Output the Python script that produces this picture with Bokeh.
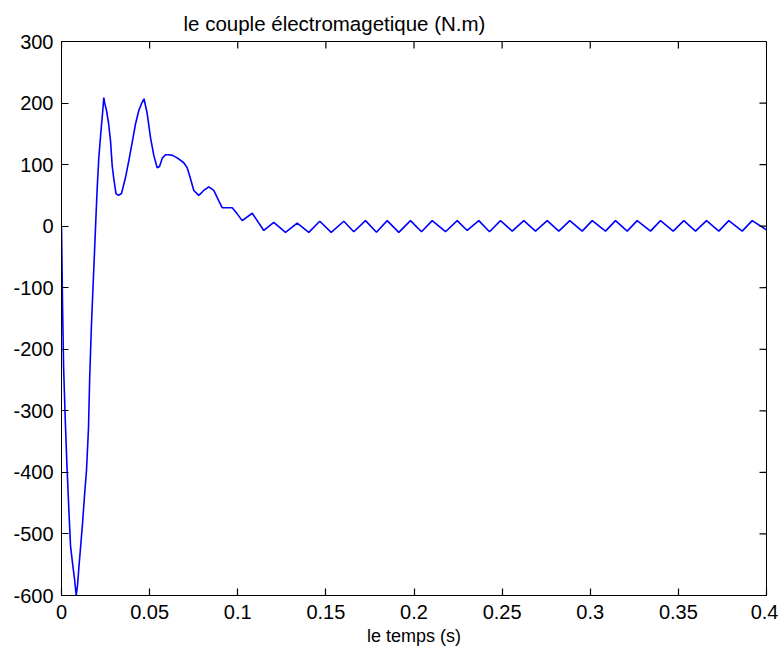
from math import pi
from bokeh.plotting import figure
from bokeh.models import Range1d, FixedTicker
from bokeh.embed import file_html
from bokeh.resources import INLINE

# time (s)
t = [0.0, 0.0006, 0.0012, 0.0022, 0.0031, 0.00426, 0.00511, 0.00624, 0.00738, 0.00834,
     0.00908, 0.00993, 0.01078, 0.01191, 0.01305, 0.01418, 0.01532, 0.0160, 0.01691, 0.01787,
     0.01872, 0.01946, 0.02026, 0.02116, 0.02241, 0.02343, 0.0240, 0.02457, 0.02553, 0.02667,
     0.0278, 0.02877, 0.02967, 0.03092, 0.03234, 0.03404, 0.03631, 0.03818, 0.04011, 0.04199,
     0.04386, 0.04539, 0.04681, 0.04862, 0.0505, 0.05237, 0.0543, 0.0556, 0.0573, 0.05901,
     0.06088, 0.06298, 0.06565, 0.06939, 0.07132, 0.07319, 0.07506, 0.0779, 0.08074, 0.08357,
     0.08641, 0.08925, 0.09118, 0.09685, 0.09969, 0.10252, 0.1082, 0.11478, 0.12045, 0.12709,
     0.13373, 0.14031, 0.14655, 0.15302, 0.16017, 0.16584, 0.17248, 0.17872, 0.18479, 0.19138,
     0.19801, 0.20426, 0.21033, 0.21787, 0.22451, 0.23018, 0.23677, 0.24284, 0.24908, 0.25572,
     0.2623, 0.26894, 0.27557, 0.28216, 0.2884, 0.29543, 0.30111, 0.30865, 0.31433, 0.32096,
     0.32664, 0.33418, 0.33986, 0.34706, 0.35308, 0.35972, 0.36596, 0.37294, 0.37861, 0.38621,
     0.39189, 0.4]

# electromagnetic torque (N.m)
couple = [0, -130, -230, -320, -389, -466, -519, -547, -573, -600,
          -584, -552, -523, -484, -438, -397, -328, -246, -167, -100,
          -43, 9, 62, 111, 155, 188, 209, 199, 188, 168,
          139, 98, 77, 53, 50, 53, 79, 106, 136, 166,
          188, 199, 207, 183, 144, 115, 95, 97, 111, 116,
          116, 115, 111, 103, 95, 77, 58, 50, 58, 64,
          58, 41, 30, 30, 20, 9, 21, -7, 6, -10,
          5, -10, 8, -10, 8, -9, 9, -10, 9, -10,
          9, -9, 9, -9, 9, -7, 9, -9, 9, -8,
          9, -8, 9, -8, 9, -8, 9, -8, 9, -8,
          9, -8, 9, -8, 9, -8, 9, -8, 9, -8,
          9, -6]

x_ticks = [0, 0.05, 0.1, 0.15, 0.2, 0.25, 0.3, 0.35, 0.4]
x_tick_labels = ["0", "0.05", "0.1", "0.15", "0.2", "0.25", "0.3", "0.35", "0.4"]
y_ticks = [-600, -500, -400, -300, -200, -100, 0, 100, 200, 300]
y_tick_labels = ["-600", "-500", "-400", "-300", "-200", "-100", "0", "100", "200", "300"]

FONT = "Liberation Sans"

xr = Range1d(0, 0.4)
yr = Range1d(-600, 300)

p = figure(width=778, height=652, output_backend="svg", toolbar_location=None,
           x_range=xr, y_range=yr,
           min_border_left=61, min_border_right=12, min_border_top=41, min_border_bottom=57,
           background_fill_color="white", border_fill_color="white")

p.line(t, couple, line_color="#0000ff", line_width=1.6)

# box ticks on top and right edges (clipped to the frame, so only the inner half shows)
p.scatter(x=x_ticks, y=[yr.end] * len(x_ticks), marker="dash", angle=pi / 2,
          size=14, line_color="black", line_width=1.2)
p.scatter(x=[xr.end] * len(y_ticks), y=y_ticks, marker="dash",
          size=14, line_color="black", line_width=1.2)

p.xgrid.visible = False
p.ygrid.visible = False
p.outline_line_color = "black"
p.outline_line_width = 1

p.title.text = "le couple électromagetique (N.m)"
p.title.align = "left"
p.title.offset = 122
p.title.text_font = FONT
p.title.text_font_size = "20.5px"
p.title.text_font_style = "normal"
p.title.text_color = "black"
p.title.standoff = 14

def style_axis(ax):
    ax.axis_line_color = "black"
    ax.major_tick_line_color = "black"
    ax.major_tick_line_width = 1.2
    ax.major_tick_in = 7
    ax.major_tick_out = 0
    ax.minor_tick_line_color = None
    ax.major_label_text_font = FONT
    ax.major_label_text_font_size = "20px"
    ax.major_label_text_color = "black"

xax = p.xaxis[0]
xax.ticker = FixedTicker(ticks=x_ticks)
xax.major_label_overrides = {v: s for v, s in zip(x_ticks, x_tick_labels)}
style_axis(xax)
xax.major_label_standoff = 9
xax.axis_label = "le temps (s)"
xax.axis_label_text_font = FONT
xax.axis_label_text_font_size = "18px"
xax.axis_label_text_font_style = "normal"
xax.axis_label_text_color = "black"
xax.axis_label_standoff = 4

yax = p.yaxis[0]
yax.ticker = FixedTicker(ticks=y_ticks)
yax.major_label_overrides = {v: s for v, s in zip(y_ticks, y_tick_labels)}
style_axis(yax)
yax.major_label_standoff = 8

open("out.html", "w").write(file_html(p, INLINE))
